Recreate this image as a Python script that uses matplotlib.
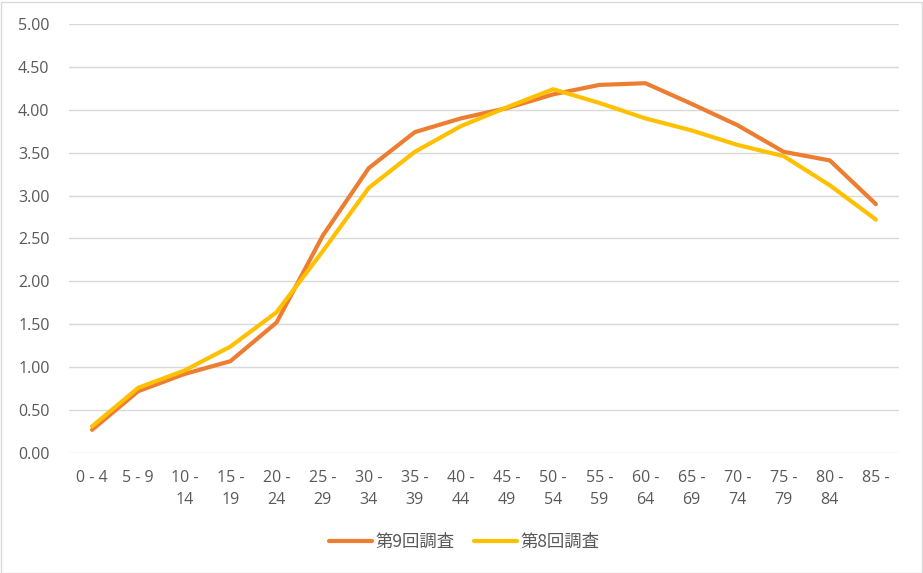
import matplotlib
matplotlib.use("Agg")
import matplotlib.pyplot as plt
from matplotlib.patches import Rectangle

categories = ["0 - 4", "5 - 9", "10 -\n14", "15 -\n19", "20 -\n24", "25 -\n29", "30 -\n34",
              "35 -\n39", "40 -\n44", "45 -\n49", "50 -\n54", "55 -\n59", "60 -\n64",
              "65 -\n69", "70 -\n74", "75 -\n79", "80 -\n84", "85 -"]
survey9 = [0.27, 0.72, 0.92, 1.07, 1.52, 2.53, 3.32, 3.74, 3.90, 4.02, 4.18, 4.29, 4.31,
           4.07, 3.82, 3.51, 3.41, 2.90]
survey8 = [0.31, 0.76, 0.96, 1.24, 1.64, 2.35, 3.09, 3.51, 3.81, 4.03, 4.24, 4.08, 3.90,
           3.76, 3.59, 3.46, 3.12, 2.72]
series_names = ["第9回調査", "第8回調査"]
yticks = [0, 0.5, 1.0, 1.5, 2.0, 2.5, 3.0, 3.5, 4.0, 4.5, 5.0]

plt.rcParams['font.family'] = ['Open Sans', 'Noto Sans CJK JP', 'DejaVu Sans']

W, H = 923, 573
fig = plt.figure(figsize=(W / 100, H / 100), dpi=100)
ax = fig.add_axes([69 / W, 1 - 453 / H, (899 - 69) / W, (453 - 24) / H])

x = list(range(len(categories)))
ax.plot(x, survey9, color="#ED7D31", lw=3.0, label=series_names[0], solid_capstyle="round",
        solid_joinstyle="round", zorder=3)
ax.plot(x, survey8, color="#FFC000", lw=3.0, label=series_names[1], solid_capstyle="round",
        solid_joinstyle="round", zorder=3)

ax.set_xlim(-0.5, len(categories) - 0.5)
ax.set_ylim(0, 5)
ax.set_yticks(yticks)
ax.set_yticklabels([f"{v:.2f}" for v in yticks])
ax.set_xticks(x)
ax.set_xticklabels(categories, va="top", linespacing=1.55)
ax.grid(axis="y", color="#D9D9D9", lw=1)
ax.set_axisbelow(True)
for s in ax.spines.values():
    s.set_visible(False)
ax.tick_params(axis="both", length=0, labelsize=11.5, colors="#595959")
ax.tick_params(axis="y", pad=14)
ax.tick_params(axis="x", pad=12)

leg = fig.legend(loc="center", bbox_to_anchor=(464 / W, 1 - 542 / H), ncol=2, frameon=False,
                 handlelength=2.5, columnspacing=1.1, handletextpad=0.2,
                 prop={'family': ['Noto Sans CJK JP', 'DejaVu Sans'], 'size': 12.5})
for t in leg.get_texts():
    t.set_color("#595959")

fig.patches.append(Rectangle((0.5 / W, 0.5 / H), 1 - 2 / W, 1 - 2 / H, transform=fig.transFigure,
                             fill=False, edgecolor="#D9D9D9", lw=1))

fig.savefig("out.png", dpi=100)
